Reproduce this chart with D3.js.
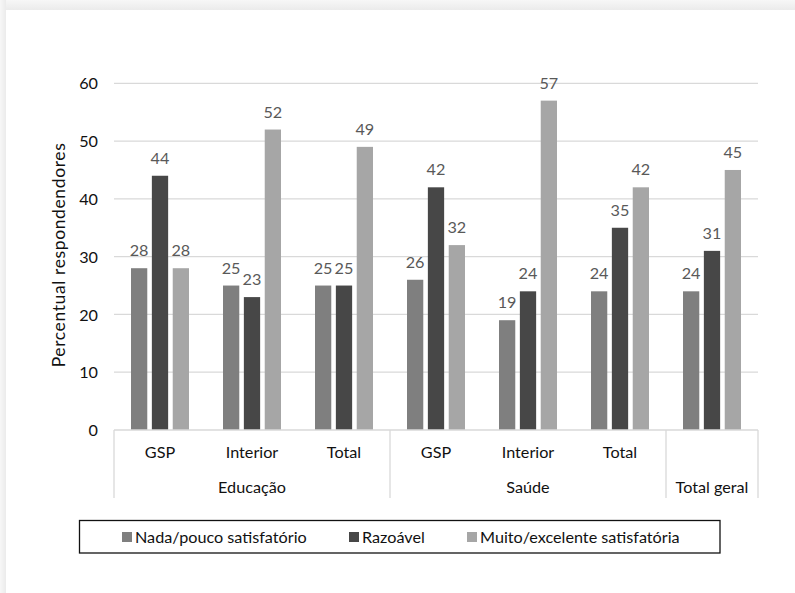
<!DOCTYPE html>
<html><head><meta charset="utf-8">
<script src="https://cdn.jsdelivr.net/npm/d3@7"></script>
<style>
html,body{margin:0;padding:0;background:#fff;}
svg{display:block;font-family:Lato,"Open Sans",sans-serif;}
</style></head>
<body>
<script>
const categories = ["GSP","Interior","Total","GSP","Interior","Total",""];
const groups = [
  {name:"Educação", from:0, to:3},
  {name:"Saúde", from:3, to:6},
  {name:"Total geral", from:6, to:7}
];
const seriesNames = ["Nada/pouco satisfatório","Razoável","Muito/excelente satisfatória"];
const nada = [28,25,25,26,19,24,24];
const razoavel = [44,23,25,42,24,35,31];
const muito = [28,52,49,32,57,42,45];
const yTicks = [0,10,20,30,40,50,60];
const colors = ["#7f7f7f","#474747","#a6a6a6"];
const series = [nada, razoavel, muito];

const FS=16.2;
const W=795,H=593;
const svg=d3.select("body").append("svg").attr("width",W).attr("height",H);
const defs=svg.append("defs");
const gt=defs.append("linearGradient").attr("id","gt").attr("x1",0).attr("y1",0).attr("x2",0).attr("y2",1);
gt.append("stop").attr("offset","0").attr("stop-color","#f7f7f7");
gt.append("stop").attr("offset","1").attr("stop-color","#ebebeb");
const gl=defs.append("linearGradient").attr("id","gl").attr("x1",0).attr("y1",0).attr("x2",1).attr("y2",0);
gl.append("stop").attr("offset","0").attr("stop-color","#f7f7f7");
gl.append("stop").attr("offset","1").attr("stop-color","#ebebeb");
svg.append("rect").attr("x",0).attr("y",0).attr("width",W).attr("height",H).attr("fill","#f3f3f3");
svg.append("rect").attr("x",0).attr("y",0).attr("width",W).attr("height",10).attr("fill","url(#gt)");
svg.append("rect").attr("x",0).attr("y",0).attr("width",6).attr("height",H).attr("fill","url(#gl)");
svg.append("rect").attr("x",6).attr("y",10).attr("width",W-6).attr("height",H-10).attr("fill","#fff");

const x0=114,x1=758,yTop=83.3,yBot=430;
const y=d3.scaleLinear().domain([0,60]).range([yBot,yTop]);
const xc=d3.scaleBand().domain(d3.range(categories.length)).range([x0,x1]).paddingInner(0).paddingOuter(0);
const bw=xc.bandwidth();
const xs=d3.scaleBand().domain(d3.range(3)).range([bw/2-29,bw/2+29]).paddingInner(0.22);

svg.append("g").selectAll("line").data(yTicks.filter(d=>d>0)).join("line")
  .attr("x1",x0).attr("x2",x1).attr("y1",d=>y(d)).attr("y2",d=>y(d))
  .attr("stroke","#d9d9d9").attr("stroke-width",1.2);

const yAxis=d3.axisLeft(y).tickValues(yTicks).tickSize(0).tickPadding(0);
const ya=svg.append("g").attr("transform",`translate(98,0)`).call(yAxis);
ya.select(".domain").remove();
ya.selectAll("text").attr("font-size",FS).attr("fill","#111").attr("font-family","Lato,sans-serif").attr("dy","0.35em");

const title=svg.append("text").attr("transform",`translate(65,255) rotate(-90)`).attr("text-anchor","middle")
  .attr("font-size",FS).attr("fill","#111").text("Percentual respondendores");
{
  const len=title.node().getComputedTextLength();
  let fs=Math.min(FS*224/len,17.5);
  title.attr("font-size",fs);
  const len2=title.node().getComputedTextLength();
  const n="Percentual respondendores".length;
  title.attr("letter-spacing",((224-len2)/(n-1)).toFixed(2));
}

series.forEach((vals,si)=>{
  const g=svg.append("g");
  g.selectAll("rect").data(vals).join("rect")
    .attr("x",(d,i)=>xc(i)+xs(si)).attr("width",xs.bandwidth())
    .attr("y",d=>y(d)).attr("height",d=>y(0)-y(d)).attr("fill",colors[si]);
  g.selectAll("text").data(vals).join("text")
    .attr("x",(d,i)=>xc(i)+xs(si)+xs.bandwidth()/2).attr("y",d=>y(d)-12)
    .attr("text-anchor","middle").attr("font-size",FS).attr("fill","#595959").text(d=>d);
});

svg.append("line").attr("x1",x0).attr("x2",x1).attr("y1",yBot).attr("y2",yBot).attr("stroke","#d9d9d9").attr("stroke-width",1.3);
const seps=[0,...groups.map(g=>g.to)];
svg.append("g").selectAll("line").data(seps).join("line")
  .attr("x1",d=>xc(d)===undefined?x1:xc(d)).attr("x2",d=>xc(d)===undefined?x1:xc(d))
  .attr("y1",yBot).attr("y2",498).attr("stroke","#d9d9d9").attr("stroke-width",1.3);
svg.append("g").selectAll("text").data(categories).join("text")
  .attr("x",(d,i)=>xc(i)+bw/2).attr("y",458).attr("text-anchor","middle")
  .attr("font-size",FS).attr("fill","#111").text(d=>d);
svg.append("g").selectAll("text").data(groups).join("text")
  .attr("x",d=>(xc(d.from)+(d.to<categories.length?xc(d.to):x1))/2).attr("y",493).attr("text-anchor","middle")
  .attr("font-size",FS).attr("fill","#111").text(d=>d.name);

svg.append("rect").attr("x",79.5).attr("y",520.5).attr("width",640.5).attr("height",32.5)
  .attr("fill","none").attr("stroke","#111").attr("stroke-width",1.3);
const legX=[122,349,467];
const lg=svg.append("g").selectAll("g").data(seriesNames).join("g")
  .attr("transform",(d,i)=>`translate(${legX[i]},537)`);
lg.append("rect").attr("x",0).attr("y",-5).attr("width",10).attr("height",10).attr("fill",(d,i)=>colors[i]);
lg.append("text").attr("x",13).attr("y",0).attr("dy","0.35em").attr("font-size",FS).attr("fill","#111").text(d=>d);
</script>
</body></html>
